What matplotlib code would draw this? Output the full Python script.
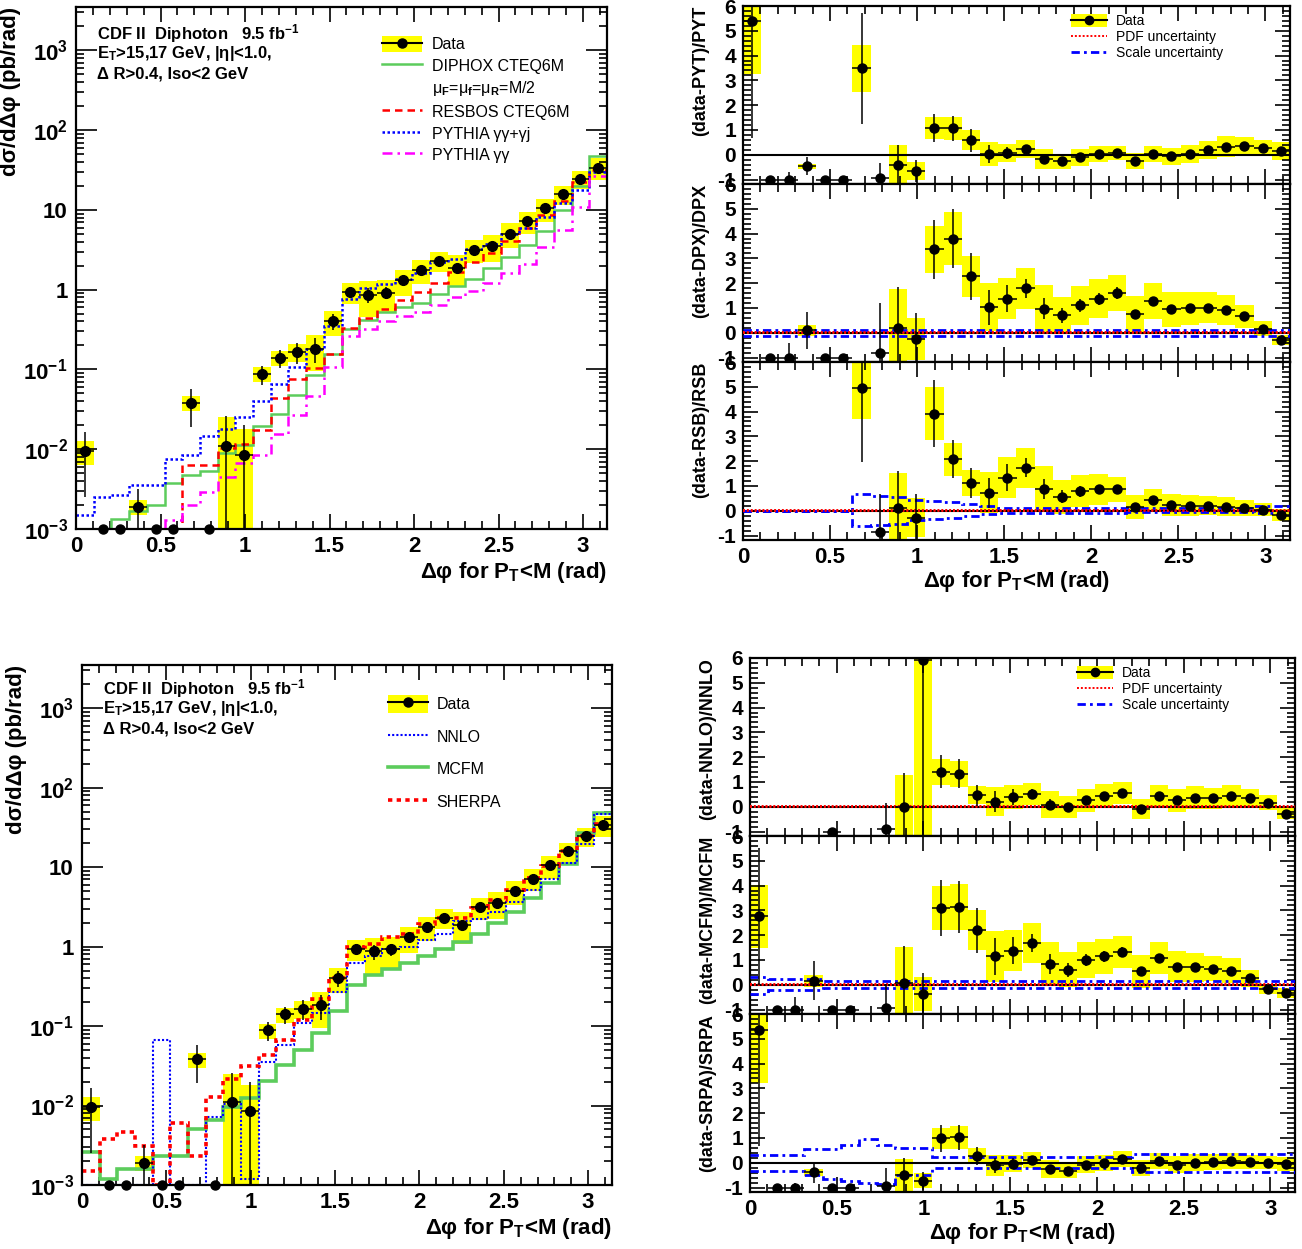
"""CDF diphoton delta-phi cross section with (data-theory)/theory ratio panels."""

import numpy as np
import matplotlib

matplotlib.use("Agg")
from matplotlib import pyplot as plt
from matplotlib.lines import Line2D
from matplotlib.patches import Patch
from matplotlib.ticker import (FixedLocator, FixedFormatter, FuncFormatter,
                               LogLocator, MultipleLocator, NullFormatter)

plt.rcParams["font.family"] = ["Liberation Sans", "DejaVu Sans"]
plt.rcParams["font.weight"] = "bold"
plt.rcParams["axes.labelweight"] = "bold"
plt.rcParams["mathtext.fontset"] = "custom"
plt.rcParams["mathtext.rm"] = "Liberation Sans"
plt.rcParams["mathtext.it"] = "Liberation Sans:italic"
plt.rcParams["mathtext.bf"] = "Liberation Sans:bold"

NAN = np.nan
N_BINS = 30
edges = np.linspace(0.0, np.pi, N_BINS + 1)
centers = 0.5 * (edges[:-1] + edges[1:])
half_w = 0.5 * (edges[1] - edges[0])

# measured cross section (pb/rad) and absolute uncertainties
xsec = [0.0095, 0, 0, 0.0019, 0, 0, 0.038, 0.0008, 0.011, 0.0085,
        0.088, 0.14, 0.166, 0.183, 0.40, 0.94, 0.87, 0.92, 1.31, 1.77,
        2.30, 1.89, 3.16, 3.55, 5.06, 7.17, 10.5, 15.8, 24.4, 34.0]
xsec_stat = [0.0070, 0, 0.0008, 0.0013, 0, 0, 0.019, 0.0096, 0.0149, 0.0115,
             0.024, 0.035, 0.048, 0.064, 0.092, 0.13, 0.19, 0.16, 0.16, 0.18,
             0.21, 0.15, 0.22, 0.21, 0.25, 0.36, 0.42, 0.63, 0.98, 1.36]
xsec_sys = [0.0032, 0, 0, 0.0004, 0, 0, 0.008, 0, 0.0143, 0.0094,
            0.019, 0.031, 0.042, 0.088, 0.14, 0.28, 0.42, 0.40, 0.48, 0.58,
            0.64, 0.81, 0.98, 1.31, 1.72, 2.22, 3.36, 4.42, 6.3, 10.2]

# theory predictions (pb/rad)
diphox = [0, 0, 0.00134, 0.0017, 0.002, 0.0038, 0.0048, 0.0053, 0.0091, 0.0114,
          0.0193, 0.028, 0.048, 0.086, 0.155, 0.32, 0.42, 0.52, 0.60, 0.69,
          0.89, 1.1, 1.37, 1.85, 2.6, 3.6, 5.5, 9.9, 20.0, 47.0]
resbos = [0, 0, 0, 0, 0, 0, 0.0064, 0.0064, 0.0104, 0.0117,
          0.0172, 0.044, 0.075, 0.103, 0.158, 0.33, 0.44, 0.57, 0.74, 0.94,
          1.2, 1.65, 2.2, 2.9, 4.1, 6.0, 8.7, 13.1, 22.5, 32.0]
pythia_gj = [0.0015, 0.0025, 0.0027, 0.0036, 0.0036, 0.0076, 0.0085, 0.0145, 0.018, 0.0257,
             0.040, 0.065, 0.106, 0.178, 0.35, 0.76, 1.06, 1.17, 1.37, 1.6,
             2.2, 2.4, 3.2, 3.7, 5.05, 6.0, 8.1, 12.2, 18.0, 30.0]
pythia_gg = [0, 0, 0, 0, 0, 0.0013, 0.002, 0.0029, 0.0045, 0.0068,
             0.0085, 0.0156, 0.027, 0.047, 0.106, 0.26, 0.32, 0.41, 0.47, 0.53,
             0.65, 0.8, 0.97, 1.23, 1.6, 2.1, 3.4, 5.6, 10.8, 27.0]
nnlo = [0, 0, 0, 0, 0.067, 0, 0, 0.0072, 0.0105, 0.0012,
        0.035, 0.057, 0.108, 0.145, 0.27, 0.63, 0.77, 0.92, 1.0, 1.2,
        1.45, 2.1, 2.2, 2.7, 3.6, 5.2, 7.1, 11.4, 19.8, 46.0]
mcfm = [0.0026, 0.0012, 0.0016, 0.0016, 0.0023, 0.0023, 0.0050, 0.0066, 0.0097, 0.0126,
        0.0205, 0.032, 0.050, 0.082, 0.157, 0.33, 0.44, 0.53, 0.63, 0.77,
        0.94, 1.13, 1.45, 1.96, 2.7, 4.1, 6.3, 11.0, 27.0, 48.0]
sherpa = [0.0015, 0.0038, 0.0046, 0.0031, 0, 0.0061, 0.0023, 0.0129, 0.0215, 0.031,
          0.043, 0.066, 0.12, 0.22, 0.40, 0.98, 1.09, 1.33, 1.45, 1.94,
          2.3, 2.3, 3.1, 3.9, 5.2, 7.2, 10.4, 16.0, 24.7, 35.0]

# (data - theory) / theory as drawn in the ratio panels (NAN = off scale)
ratio_pyt = [5.40, -1, -1, -0.47, -1, -1, 3.48, -0.95, -0.40, -0.67,
             1.09, 1.06, 0.59, 0.03, 0.07, 0.23, -0.17, -0.27, -0.11, 0.03,
             0.07, -0.26, 0.03, -0.07, 0.03, 0.19, 0.32, 0.35, 0.26, 0.15]
ratio_dpx = [NAN, -1, -1, 0.10, -1, -1, NAN, -0.83, 0.20, -0.24,
             3.36, 3.79, 2.28, 1.03, 1.38, 1.79, 0.97, 0.70, 1.10, 1.38,
             1.59, 0.74, 1.28, 0.94, 0.98, 1.01, 0.91, 0.67, 0.17, -0.30]
ratio_rsb = [NAN, NAN, NAN, NAN, NAN, NAN, 4.96, -0.87, 0.10, -0.28,
             3.92, 2.07, 1.12, 0.72, 1.34, 1.73, 0.88, 0.57, 0.79, 0.86,
             0.86, 0.15, 0.44, 0.23, 0.21, 0.21, 0.17, 0.12, 0.04, -0.18]
ratio_nnlo = [NAN, NAN, NAN, NAN, -1.0, NAN, NAN, -0.91, 0.0, 5.9,
              1.41, 1.33, 0.47, 0.20, 0.40, 0.52, 0.09, -0.01, 0.27, 0.43,
              0.56, -0.08, 0.43, 0.26, 0.36, 0.34, 0.42, 0.35, 0.16, -0.28]
ratio_mcfm = [2.76, -1, -1, 0.16, -1, -1, NAN, -0.92, 0.09, -0.38,
              3.09, 3.14, 2.19, 1.14, 1.38, 1.69, 0.84, 0.61, 1.0, 1.15,
              1.31, 0.54, 1.08, 0.73, 0.70, 0.65, 0.57, 0.26, -0.18, -0.34]
ratio_srpa = [5.34, -1, -1, -0.39, -1, -1, NAN, -0.94, -0.50, -0.73,
              0.99, 1.02, 0.26, -0.11, -0.04, 0.10, -0.25, -0.34, -0.08, -0.01,
              0.14, -0.21, 0.06, -0.08, 0.0, 0.03, 0.07, 0.04, 0.0, -0.04]

# scale uncertainty bands (relative)
dpx_scale = 0.13
rsb_scale_up = [0, 0, 0, 0, 0, 0, 0.68, 0.58, 0.55, 0.44,
                0.40, 0.37, 0.26, 0.19, 0.12, 0.12, 0.12, 0.12, 0.12, 0.12,
                0.12, 0.10, 0.10, 0.10, 0.10, 0.10, 0.10, 0.10, 0.20, 0.20]
rsb_scale_dn = [0, 0, 0, 0, 0, 0, -0.62, -0.57, -0.55, -0.39,
                -0.32, -0.29, -0.20, -0.15, -0.11, -0.11, -0.11, -0.11, -0.11, -0.11,
                -0.11, -0.07, -0.07, -0.07, -0.07, -0.07, -0.07, -0.07, -0.10, -0.10]
mcfm_scale_up = [0.30, 0.24, 0.24, 0.24, 0.15, 0.15, 0.15, 0.15, 0.15, 0.15,
                 0.15, 0.15, 0.15, 0.15, 0.15, 0.15, 0.15, 0.15, 0.15, 0.15,
                 0.15, 0.15, 0.15, 0.15, 0.15, 0.15, 0.15, 0.15, 0.15, 0.15]
mcfm_scale_dn = [-0.36, -0.22, -0.22, -0.22, -0.12, -0.12, -0.12, -0.12, -0.12, -0.12,
                 -0.12, -0.12, -0.12, -0.12, -0.12, -0.12, -0.12, -0.12, -0.12, -0.12,
                 -0.12, -0.12, -0.12, -0.12, -0.12, -0.12, -0.12, -0.12, -0.12, -0.12]
srpa_scale_up = [0.30, 0.30, 0.30, 0.55, 0.55, 0.72, 0.95, 0.72, 0.58, 0.58,
                 0.23, 0.23, 0.23, 0.23, 0.23, 0.23, 0.23, 0.23, 0.23, 0.23,
                 0.23, 0.37, 0.37, 0.37, 0.37, 0.37, 0.37, 0.37, 0.37, 0.37]
srpa_scale_dn = [-0.32, -0.32, -0.32, -0.48, -0.66, -0.73, -0.80, -0.87, -0.50, -0.50,
                 -0.22, -0.22, -0.22, -0.22, -0.22, -0.22, -0.22, -0.22, -0.22, -0.22,
                 -0.22, -0.36, -0.36, -0.36, -0.36, -0.36, -0.36, -0.36, -0.36, -0.36]
pdf_band = 0.02

YMIN, YMAX = 1e-3, 3.5e3
RMIN, RMAX = -1.18, 6.0
YELLOW = "#ffff00"
GREEN = "#5ccc5c"
XLABEL = "Δφ for P$_\\mathbf{T}$<M (rad)"


def _style_x(ax):
    ax.set_xlim(0, np.pi)
    ax.xaxis.set_major_locator(MultipleLocator(0.5))
    ax.xaxis.set_minor_locator(MultipleLocator(0.1))
    ax.xaxis.set_major_formatter(FuncFormatter(lambda v, _: f"{v:g}"))
    ax.tick_params(which="both", direction="in", top=True, right=True, width=1.2)
    ax.tick_params(which="major", length=11, labelsize=16, pad=5)
    ax.tick_params(which="minor", length=6)
    for spine in ax.spines.values():
        spine.set_linewidth(1.6)


def _data_handle(ms):
    return (Patch(facecolor=YELLOW, edgecolor="none"),
            Line2D([], [], color="black", marker="o", ms=ms, lw=1.5))


def draw_xsec(ax, curves, texts_y):
    data = np.asarray(xsec)
    stat = np.asarray(xsec_stat)
    sys = np.asarray(xsec_sys)
    seen = data >= YMIN
    lo = np.clip(data - sys, YMIN * 0.1, None)
    ax.bar(centers[seen], (data + sys - lo)[seen], bottom=lo[seen], width=2 * half_w,
           color=YELLOW, lw=0, zorder=1)
    for vals, color, ls, lw in curves:
        ax.stairs(np.clip(vals, YMIN, None), edges, baseline=None,
                  color=color, ls=ls, lw=lw, zorder=2)
    low_err = np.minimum(stat, data - 1e-7)
    ax.errorbar(centers[seen], data[seen], yerr=[low_err[seen], stat[seen]],
                xerr=half_w, fmt="o", color="black", ms=7, elinewidth=1.1,
                capsize=0, zorder=4)
    ax.plot(centers[~seen], np.full((~seen).sum(), YMIN), "o", color="black",
            ms=6.5, clip_on=False, zorder=5)
    ax.set_yscale("log")
    ax.set_ylim(YMIN, YMAX)
    _style_x(ax)
    decades = [1e-3, 1e-2, 1e-1, 1, 10, 1e2, 1e3]
    names = [r"$\mathbf{10^{-3}}$", r"$\mathbf{10^{-2}}$", r"$\mathbf{10^{-1}}$",
             "1", "10", r"$\mathbf{10^{2}}$", r"$\mathbf{10^{3}}$"]
    ax.yaxis.set_major_locator(FixedLocator(decades))
    ax.yaxis.set_major_formatter(FixedFormatter(names))
    ax.yaxis.set_minor_locator(LogLocator(base=10, subs=np.arange(2, 10), numticks=20))
    ax.yaxis.set_minor_formatter(NullFormatter())
    ax.tick_params(axis="y", which="major", length=15, pad=6)
    ax.set_ylabel("dσ/dΔφ (pb/rad)", fontsize=16, loc="top", labelpad=2)
    ax.set_xlabel(XLABEL, fontsize=16, loc="right", labelpad=2)
    lines = ["CDF II  Diphoton   9.5 fb$^{\\mathbf{-1}}$",
             "E$_\\mathbf{T}$>15,17 GeV, |η|<1.0,",
             "Δ R>0.4, Iso<2 GeV"]
    for i, line in enumerate(lines):
        ax.text(0.04, texts_y - i * 0.039, line, transform=ax.transAxes,
                fontsize=12, va="center", ha="left")


def ratio_err(ratio, theory, err_abs):
    r = np.asarray(ratio, float)
    th = np.asarray(theory, float)
    data = np.asarray(xsec, float)
    err = np.asarray(err_abs, float)
    out = np.zeros(N_BINS)
    has = data > 0
    out[has] = (1 + r[has]) * err[has] / data[has]
    use_th = ~has & (th > 0)
    out[use_th] = err[use_th] / th[use_th]
    return np.nan_to_num(out)


def draw_ratio(ax, ratio, theory, label, scale=None, pdf=True, bottom=False):
    r = np.asarray(ratio, float)
    stat = ratio_err(r, theory, xsec_stat)
    sys = ratio_err(r, theory, xsec_sys)
    ok = ~np.isnan(r)
    ax.bar(centers[ok], 2 * sys[ok], bottom=(r - sys)[ok], width=2 * half_w,
           color=YELLOW, lw=0, zorder=1)
    ax.axhline(0, color="black", lw=1.5, zorder=2)
    if scale is not None:
        for band in scale:
            ax.stairs(band, edges, baseline=None, color="blue",
                      ls=(0, (3, 1.5, 1, 1.5)), lw=2, zorder=3)
    if pdf:
        for sign in (1, -1):
            ax.axhline(sign * pdf_band, color="red", ls=(0, (1, 1)), lw=1.4, zorder=3)
    ax.errorbar(centers[ok], r[ok], yerr=stat[ok], xerr=half_w, fmt="o",
                color="black", ms=6.5, elinewidth=1.1, capsize=0, zorder=4)
    ax.set_ylim(RMIN, RMAX)
    _style_x(ax)
    ax.yaxis.set_major_locator(MultipleLocator(1))
    ax.yaxis.set_minor_locator(MultipleLocator(0.2))
    ax.yaxis.set_major_formatter(FuncFormatter(lambda v, _: f"{v:g}"))
    ax.tick_params(axis="y", which="major", labelsize=15, pad=5)
    ax.set_ylabel(label, fontsize=13, loc="top", labelpad=6)
    if bottom:
        ax.set_xlabel(XLABEL, fontsize=16, labelpad=1)
    else:
        ax.tick_params(labelbottom=False)


def ratio_legend(ax):
    handles = [_data_handle(6),
               Line2D([], [], color="red", ls=(0, (1, 1)), lw=1.4),
               Line2D([], [], color="blue", ls=(0, (3, 1.5, 1, 1.5)), lw=2)]
    labels = ["Data", "PDF uncertainty", "Scale uncertainty"]
    ax.legend(handles, labels, loc="upper left", bbox_to_anchor=(0.59, 0.985),
              frameon=False, prop={"size": 10, "weight": "normal"},
              handlelength=2.6, handleheight=1.0, labelspacing=0.15,
              borderaxespad=0, handletextpad=0.6)


W, H = 1302, 1249
fig = plt.figure(figsize=(W / 100, H / 100), dpi=100)


def px_axes(left, top, width, height):
    return fig.add_axes([left / W, 1 - (top + height) / H, width / W, height / H])


# top-left: DIPHOX / RESBOS / PYTHIA
ax_tl = px_axes(76, 7, 531, 522)
draw_xsec(ax_tl, [(diphox, GREEN, "-", 1.8),
                  (resbos, "red", (0, (3, 2)), 1.8),
                  (pythia_gj, "blue", (0, (1, 1)), 1.8),
                  (pythia_gg, "magenta", (0, (4, 2, 1, 2)), 1.8)], 0.95)
tl_handles = [_data_handle(6.5),
              Line2D([], [], color=GREEN, lw=1.8),
              Line2D([], [], color="none"),
              Line2D([], [], color="red", ls=(0, (3, 2)), lw=1.8),
              Line2D([], [], color="blue", ls=(0, (1, 1)), lw=1.8),
              Line2D([], [], color="magenta", ls=(0, (4, 2, 1, 2)), lw=1.8)]
tl_labels = ["Data", "DIPHOX CTEQ6M",
             "μ$_\\mathrm{F}$=μ$_\\mathrm{f}$=μ$_\\mathrm{R}$=M/2",
             "RESBOS CTEQ6M", "PYTHIA γγ+γj", "PYTHIA γγ"]
ax_tl.legend(tl_handles, tl_labels, loc="upper left", bbox_to_anchor=(0.565, 0.957),
             frameon=False, prop={"size": 11.5, "weight": "normal"},
             handlelength=2.5, handleheight=1.2, labelspacing=0.32,
             borderaxespad=0, handletextpad=0.6)

# bottom-left: NNLO / MCFM / SHERPA
ax_bl = px_axes(82, 665, 530, 520)
draw_xsec(ax_bl, [(mcfm, GREEN, "-", 2.6),
                  (nnlo, "blue", (0, (1, 1)), 1.5),
                  (sherpa, "red", (0, (1.2, 1.2)), 2.6)], 0.955)
bl_handles = [_data_handle(6.5),
              Line2D([], [], color="blue", ls=(0, (1, 1)), lw=1.5),
              Line2D([], [], color=GREEN, lw=2.6),
              Line2D([], [], color="red", ls=(0, (1.2, 1.2)), lw=2.6)]
ax_bl.legend(bl_handles, ["Data", "NNLO", "MCFM", "SHERPA"], loc="upper left",
             bbox_to_anchor=(0.565, 0.955), frameon=False,
             prop={"size": 11.5, "weight": "normal"}, handlelength=2.5,
             handleheight=1.4, labelspacing=0.88, borderaxespad=0,
             handletextpad=0.55)

# top-right ratio panels
tr_tops = [6, 184, 362]
ax_pyt = px_axes(743, tr_tops[0], 547, 178)
draw_ratio(ax_pyt, ratio_pyt, pythia_gj, "(data-PYT)/PYT", pdf=False)
ratio_legend(ax_pyt)
ax_dpx = px_axes(743, tr_tops[1], 547, 178)
draw_ratio(ax_dpx, ratio_dpx, diphox, "(data-DPX)/DPX",
           scale=[np.full(N_BINS, dpx_scale), np.full(N_BINS, -dpx_scale)])
ax_rsb = px_axes(743, tr_tops[2], 547, 178)
draw_ratio(ax_rsb, ratio_rsb, resbos, "(data-RSB)/RSB",
           scale=[rsb_scale_up, rsb_scale_dn], bottom=True)

# bottom-right ratio panels
br_tops = [658, 836, 1014]
ax_nnlo = px_axes(750, br_tops[0], 545, 178)
draw_ratio(ax_nnlo, ratio_nnlo, nnlo, "(data-NNLO)/NNLO")
ratio_legend(ax_nnlo)
ax_mcfm = px_axes(750, br_tops[1], 545, 178)
draw_ratio(ax_mcfm, ratio_mcfm, mcfm, "(data-MCFM)/MCFM",
           scale=[mcfm_scale_up, mcfm_scale_dn])
ax_srpa = px_axes(750, br_tops[2], 545, 178)
draw_ratio(ax_srpa, ratio_srpa, sherpa, "(data-SRPA)/SRPA",
           scale=[srpa_scale_up, srpa_scale_dn], pdf=False, bottom=True)

fig.savefig("out.png", dpi=100)
